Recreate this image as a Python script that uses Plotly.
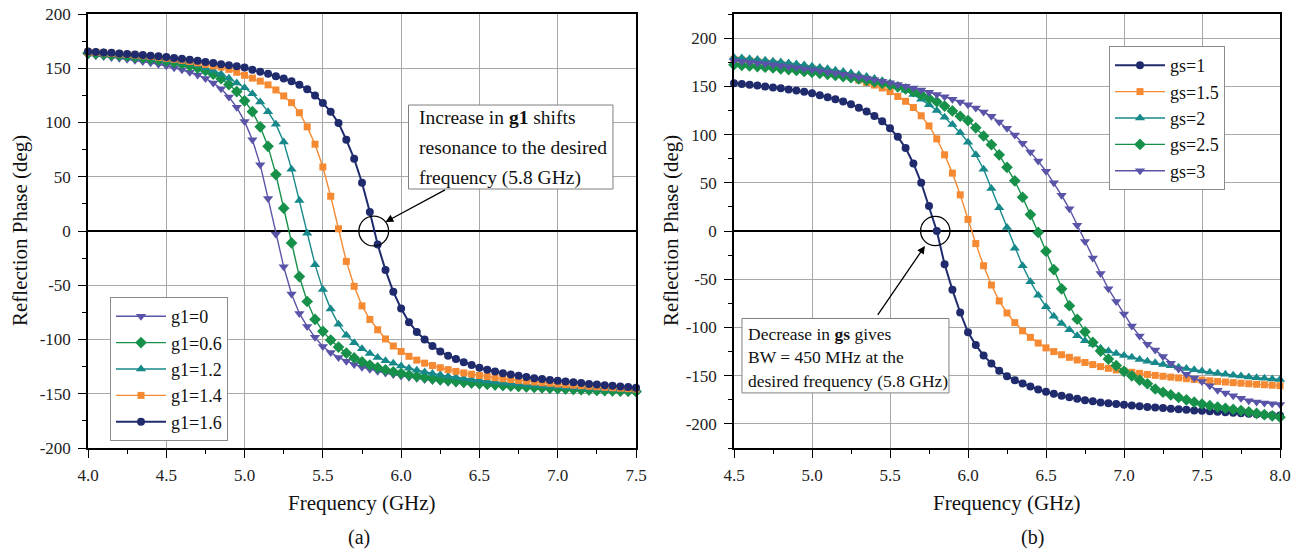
import plotly.graph_objects as go

# ---------------- data: panel (a), g1 sweep ----------------
freq_a = [round(4.0 + 0.05 * k, 2) for k in range(71)]

phase_g1_0 = [
    162.0, 161.5, 160.8, 160.0, 159.2, 158.3, 157.3, 156.2, 155.0, 153.6,
    152.2, 150.5, 148.6, 146.4, 143.8, 140.6, 136.5, 131.0, 123.5, 114.0,
    101.0, 84.0, 61.0, 30.0, -3.0, -33.0, -58.0, -76.0, -88.0, -98.0,
    -106.5, -112.0, -116.5, -120.0, -123.0, -125.5, -127.5, -129.3, -130.9, -132.3,
    -133.6, -134.7, -135.8, -136.8, -137.7, -138.5, -139.3, -140.0, -140.7, -141.3,
    -141.9, -142.5, -143.0, -143.5, -144.0, -144.4, -144.8, -145.2, -145.6, -146.0,
    -146.3, -146.6, -146.9, -147.2, -147.5, -147.7, -147.9, -148.1, -148.3, -148.5,
    -148.7,
]
phase_g1_06 = [
    164.0, 163.5, 163.0, 162.4, 161.8, 161.1, 160.4, 159.6, 158.7, 157.7,
    156.6, 155.3, 153.9, 152.2, 150.2, 147.8, 144.5, 140.3, 135.0, 128.5,
    120.0, 110.0, 96.0, 78.0, 52.0, 21.0, -11.0, -42.0, -65.0, -81.5,
    -92.5, -100.5, -107.0, -112.5, -117.0, -120.5, -123.5, -126.0, -128.0, -129.8,
    -131.3, -132.7, -133.9, -135.0, -136.0, -137.0, -137.8, -138.6, -139.3, -140.0,
    -140.6, -141.2, -141.8, -142.3, -142.8, -143.3, -143.7, -144.1, -144.5, -144.9,
    -145.3, -145.6, -145.9, -146.2, -146.5, -146.8, -147.1, -147.3, -147.5, -147.7,
    -148.0,
]
phase_g1_12 = [
    164.5, 164.0, 163.5, 163.0, 162.4, 161.8, 161.1, 160.4, 159.6, 158.8,
    157.9, 156.9, 155.8, 154.5, 153.0, 150.5, 148.0, 144.7, 140.8, 136.5,
    132.0, 126.5, 119.0, 110.0, 98.5, 82.0, 57.0, 28.0, -2.0, -31.0,
    -54.0, -72.0, -86.0, -96.0, -103.0, -108.5, -113.0, -116.5, -119.5, -122.0,
    -124.5, -126.5, -128.3, -129.9, -131.3, -132.6, -133.8, -134.9, -135.9, -136.8,
    -137.6, -138.4, -139.1, -139.8, -140.4, -141.0, -141.6, -142.1, -142.6, -143.1,
    -143.5, -143.9, -144.3, -144.7, -145.1, -145.4, -145.8, -146.1, -146.4, -146.7,
    -147.0,
]
phase_g1_14 = [
    165.0, 164.6, 164.2, 163.7, 163.2, 162.7, 162.1, 161.5, 160.8, 160.0,
    159.2, 158.3, 157.3, 156.2, 155.0, 153.6, 152.1, 151.0, 149.0, 146.3,
    143.5, 140.9, 138.1, 134.7, 130.0, 124.5, 118.3, 109.0, 96.0, 80.0,
    59.0, 32.0, 2.0, -28.0, -51.0, -69.0, -81.5, -91.0, -99.5, -106.0,
    -111.0, -115.5, -119.0, -121.8, -124.0, -126.0, -127.8, -129.4, -130.8, -132.0,
    -133.2, -134.2, -135.2, -136.1, -136.9, -137.7, -138.4, -139.1, -139.8, -140.4,
    -141.0, -141.6, -142.1, -142.6, -143.1, -143.6, -144.1, -144.5, -144.9, -145.3,
    -145.7,
]
phase_g1_16 = [
    165.5, 165.0, 164.6, 164.2, 163.7, 163.2, 162.7, 162.2, 161.6, 161.0,
    160.3, 159.5, 158.7, 157.8, 156.8, 155.8, 154.8, 153.8, 152.8, 151.8,
    150.6, 148.6, 146.7, 145.0, 142.7, 140.5, 138.0, 134.7, 130.6, 125.0,
    118.0, 110.0, 99.5, 84.0, 66.5, 44.5, 17.5, -12.5, -36.0, -56.0,
    -71.5, -84.0, -93.0, -100.0, -106.0, -111.0, -115.0, -118.0, -121.0, -123.5,
    -126.0, -127.8, -129.5, -131.0, -132.3, -133.5, -134.6, -135.6, -136.5, -137.3,
    -138.0, -138.8, -139.5, -140.2, -140.9, -141.5, -142.1, -142.7, -143.3, -143.8,
    -144.4,
]

# ---------------- data: panel (b), gs sweep ----------------
freq_b = [round(4.5 + 0.05 * k, 2) for k in range(71)]

phase_gs_1 = [
    153.3, 152.5, 151.6, 150.8, 149.9, 148.9, 147.9, 146.8, 145.6, 144.3,
    142.8, 140.7, 138.8, 136.7, 134.4, 131.5, 127.8, 124.0, 119.3, 113.8,
    106.5, 97.7, 86.0, 70.0, 50.0, 26.0, 0.0, -34.5, -61.0, -84.5,
    -105.0, -118.3, -129.0, -137.5, -145.0, -150.5, -154.7, -158.0, -161.3, -164.3,
    -166.8, -168.8, -170.8, -172.5, -174.0, -175.4, -176.6, -177.7, -178.6, -179.4,
    -180.2, -181.0, -181.7, -182.4, -183.0, -183.6, -184.2, -184.8, -185.4, -186.0,
    -186.5, -187.0, -187.5, -188.0, -188.5, -189.0, -189.5, -190.0, -190.5, -191.0,
    -191.4,
]
phase_gs_15 = [
    178.0, 177.3, 176.5, 175.7, 174.8, 173.9, 172.9, 171.8, 170.7, 169.5,
    168.2, 166.8, 165.3, 163.7, 162.0, 160.1, 156.5, 154.0, 151.3, 148.3,
    144.5, 139.5, 134.5, 128.0, 119.5, 109.0, 95.5, 79.0, 60.0, 37.5,
    12.0, -13.0, -36.0, -56.0, -72.5, -85.0, -95.0, -103.5, -110.3, -116.2,
    -121.2, -125.0, -128.3, -131.0, -133.7, -136.3, -138.5, -140.6, -142.4, -144.0,
    -145.3, -146.5, -147.6, -148.7, -149.7, -150.6, -151.5, -152.3, -153.1, -153.9,
    -154.6, -155.3, -156.0, -156.6, -157.2, -157.8, -158.4, -158.9, -159.4, -159.9,
    -160.4,
]
phase_gs_2 = [
    180.0, 179.3, 178.6, 177.8, 177.0, 176.1, 175.2, 174.2, 173.1, 172.0,
    170.8, 169.5, 168.2, 166.8, 165.3, 163.7, 162.0, 160.1, 158.0, 155.7,
    153.2, 149.8, 146.0, 141.5, 136.5, 131.0, 125.0, 118.0, 110.5, 102.0,
    92.0, 79.0, 64.0, 44.0, 24.0, 3.5, -18.0, -36.0, -52.5, -66.5,
    -78.5, -88.5, -96.0, -102.5, -108.5, -113.7, -117.5, -121.5, -124.5, -127.0,
    -129.0, -131.0, -133.2, -135.0, -136.7, -138.3, -139.8, -141.2, -142.6, -143.9,
    -145.2, -146.4, -147.5, -148.5, -149.5, -150.4, -151.3, -152.1, -152.8, -153.4,
    -154.0,
]
phase_gs_25 = [
    172.4, 171.8, 171.2, 170.5, 169.8, 169.0, 168.2, 167.4, 166.5, 165.5,
    164.5, 163.5, 162.4, 161.3, 160.1, 158.9, 157.6, 156.2, 154.7, 153.2,
    151.5, 149.5, 147.3, 144.5, 141.3, 137.5, 134.0, 129.5, 124.5, 119.0,
    114.5, 107.0, 98.5, 89.5, 79.0, 66.0, 52.0, 35.0, 17.0, -1.5,
    -21.0, -40.0, -60.0, -77.5, -91.5, -104.5, -115.5, -124.5, -132.8, -139.5,
    -145.5, -150.2, -154.6, -158.4, -163.8, -167.2, -170.0, -172.6, -175.1, -177.5,
    -179.4, -181.1, -182.5, -183.8, -185.0, -186.2, -187.6, -189.0, -190.4, -191.7,
    -193.0,
]
phase_gs_3 = [
    176.5, 175.8, 175.0, 174.2, 173.3, 172.4, 171.4, 170.4, 169.4, 168.3,
    167.2, 166.1, 164.9, 163.7, 162.4, 161.1, 159.7, 158.3, 156.8, 155.2,
    153.6, 151.9, 150.1, 148.2, 146.1, 143.9, 141.6, 139.1, 136.5, 133.8,
    131.0, 127.5, 123.5, 119.0, 113.0, 106.5, 99.5, 91.0, 82.0, 72.5,
    62.0, 50.0, 37.0, 23.0, 6.0, -11.0, -28.0, -44.0, -60.0, -73.0,
    -86.0, -98.5, -109.0, -117.5, -123.5, -130.0, -137.0, -143.0, -148.5, -152.5,
    -156.0, -160.5, -165.0, -168.0, -170.8, -173.3, -176.0, -177.3, -178.3, -179.2,
    -180.0,
]

labels_a = ["g1=0", "g1=0.6", "g1=1.2", "g1=1.4", "g1=1.6"]
labels_b = ["gs=1", "gs=1.5", "gs=2", "gs=2.5", "gs=3"]

# tick values and labels (plain hyphen minus, as printed)
yticks_vals = [-200, -150, -100, -50, 0, 50, 100, 150, 200]
yticks_text = ["-200", "-150", "-100", "-50", "0", "50", "100", "150", "200"]

# ---------------- styling ----------------
FONT = "Liberation Serif"
NAVY = "#1F2B6C"
ORANGE = "#F58A32"
TEAL = "#17898A"
GREEN = "#17904A"
PURPLE = "#5A54A8"
GRID = "#A8A8A8"

style_a = [
    (PURPLE, "triangle-down", 9, 1.4),
    (GREEN, "diamond", 9, 1.4),
    (TEAL, "triangle-up", 9, 1.4),
    (ORANGE, "square", 7, 1.4),
    (NAVY, "circle", 8, 2.0),
]
style_b = [
    (NAVY, "circle", 8, 2.0),
    (ORANGE, "square", 7, 1.4),
    (TEAL, "triangle-up", 9, 1.4),
    (GREEN, "diamond", 9, 1.4),
    (PURPLE, "triangle-down", 9, 1.4),
]

W, H = 1302, 552
fig = go.Figure()

series_a = [phase_g1_0, phase_g1_06, phase_g1_12, phase_g1_14, phase_g1_16]
for name, ys, (col, sym, sz, lw) in zip(labels_a, series_a, style_a):
    fig.add_trace(go.Scatter(
        x=freq_a, y=ys, name=name, mode="lines+markers",
        line=dict(color=col, width=lw),
        marker=dict(symbol=sym, size=sz, color=col),
        xaxis="x", yaxis="y", legend="legend", cliponaxis=False,
    ))

series_b = [phase_gs_1, phase_gs_15, phase_gs_2, phase_gs_25, phase_gs_3]
for name, ys, (col, sym, sz, lw) in zip(labels_b, series_b, style_b):
    fig.add_trace(go.Scatter(
        x=freq_b, y=ys, name=name, mode="lines+markers",
        line=dict(color=col, width=lw),
        marker=dict(symbol=sym, size=sz, color=col),
        xaxis="x2", yaxis="y2", legend="legend2", cliponaxis=False,
    ))

# plot-area geometry in pixels
A_L, A_R = 88, 636
B_L, B_R = 734, 1280
TOP, BOT = 14, 448


def px_x(p):
    return p / W


def px_y(p):
    return 1 - p / H


def xaxis_style(lo, hi, left, right, anchor):
    return dict(
        domain=[px_x(left), px_x(right)], range=[lo, hi], anchor=anchor,
        dtick=0.5, tick0=lo, tickformat=".1f", automargin=False,
        showline=True, linecolor="black", linewidth=1.6, mirror=True,
        ticks="outside", ticklen=8, tickwidth=1.3, tickcolor="black",
        showgrid=True, gridcolor=GRID, gridwidth=1, zeroline=False,
        minor=dict(dtick=0.25, ticks="outside", ticklen=4, tickwidth=1.2,
                   tickcolor="black", showgrid=False),
        tickfont=dict(family=FONT, size=17, color="#222"),
        ticklabelstandoff=3,
    )


def yaxis_style(lo, hi, anchor):
    return dict(
        domain=[px_y(BOT), px_y(TOP)], range=[lo, hi], anchor=anchor,
        tickmode="array", tickvals=yticks_vals, ticktext=yticks_text,
        automargin=False,
        showline=True, linecolor="black", linewidth=1.6, mirror=True,
        ticks="outside", ticklen=8, tickwidth=1.3, tickcolor="black",
        showgrid=True, gridcolor=GRID, gridwidth=1,
        zeroline=True, zerolinecolor="black", zerolinewidth=1.6,
        minor=dict(tickmode="linear", tick0=0, dtick=25, ticks="outside",
                   ticklen=4, tickwidth=1.2, tickcolor="black", showgrid=False),
        tickfont=dict(family=FONT, size=17, color="#222"),
        ticklabelstandoff=4,
    )


legend_common = dict(
    bgcolor="white", bordercolor="#8C8C8C", borderwidth=1,
    font=dict(family=FONT, size=18, color="#111"),
    xanchor="left", yanchor="top", tracegroupgap=0, itemwidth=50,
)

fig.update_layout(
    width=W, height=H,
    margin=dict(l=0, r=0, t=0, b=0, pad=0, autoexpand=False),
    paper_bgcolor="white", plot_bgcolor="white",
    font=dict(family=FONT, color="#111"),
    xaxis=xaxis_style(4.0, 7.5, A_L, A_R, "y"),
    yaxis=yaxis_style(-200, 200, "x"),
    xaxis2=xaxis_style(4.5, 8.0, B_L, B_R, "y2"),
    yaxis2=yaxis_style(-225, 225, "x2"),
    legend=dict(x=px_x(110), y=px_y(297), **legend_common),
    legend2=dict(x=px_x(1109), y=px_y(46), **legend_common),
)

# axis titles and panel labels
text_font = dict(family=FONT, size=21, color="#111")
for xc in [(A_L + A_R) / 2, (B_L + B_R) / 2]:
    fig.add_annotation(text="Frequency (GHz)", xref="paper", yref="paper",
                       x=px_x(xc), y=px_y(503), xanchor="center", yanchor="middle",
                       showarrow=False, font=text_font)
for xc in [20, 671]:
    fig.add_annotation(text="Reflection Phase (deg)", xref="paper", yref="paper",
                       x=px_x(xc), y=px_y(231), xanchor="center", yanchor="middle",
                       textangle=-90, showarrow=False, font=text_font)
for txt, xc in [("(a)", 359), ("(b)", 1032)]:
    fig.add_annotation(text=txt, xref="paper", yref="paper", x=px_x(xc), y=px_y(537),
                       xanchor="center", yanchor="middle", showarrow=False,
                       font=dict(family=FONT, size=20, color="#111"))

# panel (a) callout
fig.add_shape(type="rect", xref="x", yref="y", x0=6.047, x1=7.353, y0=38.7, y1=116.1,
              line=dict(color="#7F7F7F", width=1), fillcolor="white", layer="above")
lines_a = ["Increase in <b>g1</b> shifts", "resonance to the desired", "frequency (5.8 GHz)"]
for txt, yv in zip(lines_a, [104.5, 76.8, 49.2]):
    fig.add_annotation(text=txt, xref="x", yref="y", x=6.10, y=yv,
                       xanchor="left", yanchor="middle", showarrow=False,
                       font=dict(family=FONT, size=19.5, color="#111"))
fig.add_shape(type="circle", xref="x", yref="y", x0=5.825 - 0.095, x1=5.825 + 0.095,
              y0=-13.8, y1=13.8, line=dict(color="black", width=1.3), layer="above")
fig.add_annotation(text="", xref="x", yref="y", axref="x", ayref="y",
                   x=5.90, y=8.3, ax=6.29, ay=38.7, showarrow=True,
                   arrowhead=2, arrowsize=1.2, arrowwidth=1.3, arrowcolor="black")

# panel (b) callout
fig.add_shape(type="rect", xref="x2", yref="y2", x0=4.551, x1=5.878, y0=-167.9, y1=-90.7,
              line=dict(color="#7F7F7F", width=1), fillcolor="white", layer="above")
lines_b = ["Decrease in <b>gs</b> gives", "BW = 450 MHz at the",
           "desired frequency (5.8 GHz)"]
for txt, yv in zip(lines_b, [-106.9, -131.1, -155.2]):
    fig.add_annotation(text=txt, xref="x2", yref="y2", x=4.577, y=yv,
                       xanchor="left", yanchor="middle", showarrow=False,
                       font=dict(family=FONT, size=17.5, color="#111"))
fig.add_shape(type="circle", xref="x2", yref="y2", x0=5.79 - 0.094, x1=5.79 + 0.094,
              y0=-15.2, y1=15.2, line=dict(color="black", width=1.3), layer="above")
fig.add_annotation(text="", xref="x2", yref="y2", axref="x2", ayref="y2",
                   x=5.724, y=-15.5, ax=5.415, ay=-88.5, showarrow=True,
                   arrowhead=2, arrowsize=1.2, arrowwidth=1.3, arrowcolor="black")

fig.write_html("out.html")
